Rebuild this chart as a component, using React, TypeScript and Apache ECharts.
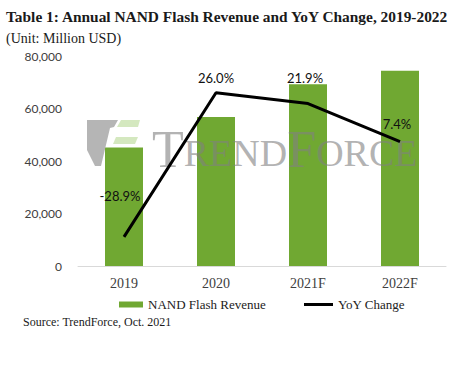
import React, { useEffect, useRef } from 'react';
import * as echarts from 'echarts';

const categories = ['2019', '2020', '2021F', '2022F'];
const revenue = [45100, 56800, 69200, 74400];
const yoyChange = [-28.9, 26.0, 21.9, 7.4];
const yTicks = [0, 20000, 40000, 60000, 80000];

const titleText = 'Table 1: Annual NAND Flash Revenue and YoY Change, 2019-2022';
const subtitleText = '(Unit: Million USD)';
const sourceText = 'Source: TrendForce, Oct. 2021';
const barName = 'NAND Flash Revenue';
const lineName = 'YoY Change';

const SERIF = '"Liberation Serif", "DejaVu Serif", serif';
const SANS = 'Lato, "Liberation Sans", sans-serif';

export default function App() {
  const ref = useRef<HTMLDivElement>(null);

  useEffect(() => {
    if (!ref.current) return;
    const chart = echarts.init(ref.current, undefined, { renderer: 'svg' });
    const labelOffsets = [[-4, -29], [0, -3], [-3, -14], [-3, -6]];
    const option = {
      animation: false,
      backgroundColor: '#ffffff',
      title: [
        {
          text: titleText,
          left: 6,
          top: 9,
          padding: 0,
          textStyle: { fontFamily: SERIF, fontWeight: 'bold', fontSize: 15.4, color: '#1a1a1a' },
        },
        {
          text: subtitleText,
          left: 6,
          top: 31,
          padding: 0,
          textStyle: { fontFamily: SERIF, fontWeight: 'normal', fontSize: 14, color: '#1a1a1a' },
        },
      ],
      grid: { left: 78, right: 18, top: 56, bottom: 120, containLabel: false },
      legend: [
        {
          data: [{ name: barName, icon: 'rect' }],
          left: 119,
          top: 298,
          padding: 0,
          itemWidth: 24,
          itemHeight: 6,
          textStyle: { fontFamily: SERIF, fontSize: 13, color: '#222' },
        },
        {
          data: [{ name: lineName, icon: 'rect' }],
          left: 304,
          top: 298,
          padding: 0,
          itemWidth: 29,
          itemHeight: 3,
          textStyle: { fontFamily: SERIF, fontSize: 13, color: '#222' },
        },
      ],
      xAxis: {
        type: 'category',
        data: categories,
        axisLine: { show: true, lineStyle: { color: '#d9d9d9', width: 1 } },
        axisTick: { show: false },
        axisLabel: { fontFamily: SERIF, fontSize: 14, color: '#404040', margin: 10 },
      },
      yAxis: [
        {
          type: 'value',
          min: yTicks[0],
          max: yTicks[yTicks.length - 1],
          interval: yTicks[1] - yTicks[0],
          splitLine: { show: false },
          axisLine: { show: false },
          axisTick: { show: false },
          axisLabel: {
            fontFamily: SANS,
            fontSize: 12,
            color: '#404040',
            margin: 16,
            formatter: (v: number) => v.toLocaleString('en-US'),
          },
        },
        {
          type: 'value',
          min: -40,
          max: 40,
          show: false,
          splitLine: { show: false },
        },
      ],
      graphic: [
        {
          type: 'polygon',
          z: 3,
          shape: {
            points: [[87, 120], [118, 120], [114, 127], [110, 128], [101, 166], [95, 166], [87, 150]],
          },
          style: { fill: '#a8a8a8', opacity: 0.85 },
        },
        {
          type: 'polygon',
          z: 3,
          shape: { points: [[121, 120], [140, 120], [138, 127], [117, 127]] },
          style: { fill: '#cfe5b8', opacity: 0.9 },
        },
        {
          type: 'polygon',
          z: 3,
          shape: { points: [[116, 137], [138, 137], [135, 144], [113, 144]] },
          style: { fill: '#cfe5b8', opacity: 0.9 },
        },
        {
          type: 'text',
          z: 3,
          left: 152,
          top: 123,
          style: {
            text: '{a|T}{b|REND}{a|F}{b|ORCE}',
            rich: {
              a: { fontFamily: SERIF, fontSize: 52, fill: '#808080', verticalAlign: 'bottom' },
              b: { fontFamily: SERIF, fontSize: 38, fill: '#808080', verticalAlign: 'bottom', padding: [0, 0, 3, 0] },
            },
            opacity: 0.6,
          },
        },
        {
          type: 'text',
          left: 23,
          top: 316,
          style: { text: sourceText, fontFamily: SERIF, fontSize: 12, fill: '#1a1a1a' },
        },
      ],
      series: [
        {
          name: barName,
          type: 'bar',
          data: revenue,
          barWidth: 38,
          z: 2,
          itemStyle: { color: '#70a832' },
        },
        {
          name: lineName,
          type: 'line',
          yAxisIndex: 1,
          z: 5,
          symbol: 'circle',
          symbolSize: 0,
          showSymbol: true,
          data: yoyChange.map((v, i) => ({ value: v, label: { offset: labelOffsets[i] } })),
          lineStyle: { color: '#000000', width: 3 },
          itemStyle: { color: '#000000' },
          label: {
            show: true,
            position: 'top',
            fontFamily: SANS,
            fontSize: 13,
            color: '#111',
            formatter: (p: any) => `${Number(p.value).toFixed(1)}%`,
          },
        },
      ],
    };
    chart.setOption(option as any);
    return () => chart.dispose();
  }, []);

  return (
    <div
      ref={ref}
      style={{ position: 'fixed', left: 0, top: 0, width: 464, height: 386, background: '#fff' }}
    />
  );
}
